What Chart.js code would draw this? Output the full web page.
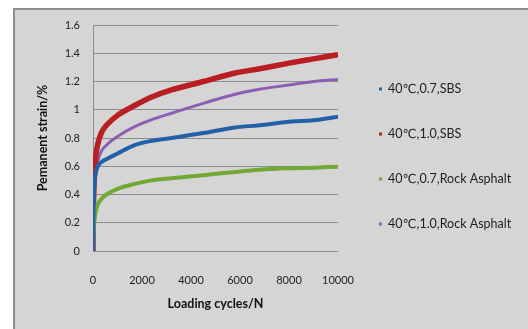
<!DOCTYPE html>
<html lang="en">
<head>
<meta charset="UTF-8">
<title>Permanent strain vs loading cycles</title>
<script src="https://cdn.jsdelivr.net/npm/chart.js"></script>
<style>
  html, body { margin: 0; padding: 0; background: #fff; }
  #wrap { position: relative; width: 528px; height: 329px; overflow: hidden; }
  #frame {
    position: absolute; left: 13px; top: 8px; width: 540px; height: 340px;
    background: #d5d5d5; border-left: 2px solid #8e8e8e; border-top: 2px solid #8e8e8e;
  }
  #chart { position: absolute; left: 0; top: 0; }
</style>
</head>
<body>
<div id="wrap">
  <div id="frame"></div>
  <canvas id="chart" width="528" height="329"></canvas>
</div>

<script>
// loading cycles where the curves were read
const cycles = [0, 20, 50, 100, 200, 350, 550, 1000, 1700, 2400, 3200, 4500, 5800, 6800, 8000, 9000, 10000];

// permanent strain, %
const sbs07  = [0, 0.30, 0.45, 0.54, 0.60, 0.63, 0.65, 0.69, 0.75, 0.78, 0.80, 0.835, 0.875, 0.89, 0.915, 0.925, 0.95];
const sbs10  = [0, 0.32, 0.50, 0.65, 0.76, 0.84, 0.89, 0.96, 1.03, 1.09, 1.14, 1.20, 1.26, 1.29, 1.33, 1.36, 1.39];
const rock07 = [0, 0.10, 0.20, 0.27, 0.33, 0.37, 0.40, 0.44, 0.475, 0.50, 0.515, 0.537, 0.56, 0.575, 0.585, 0.59, 0.596];
const rock10 = [0, 0.35, 0.45, 0.55, 0.64, 0.71, 0.75, 0.81, 0.88, 0.93, 0.975, 1.045, 1.11, 1.145, 1.175, 1.20, 1.215];

const seriesNames = ['40℃,0.7,SBS', '40℃,1.0,SBS', '40℃,0.7,Rock Asphalt', '40℃,1.0,Rock Asphalt'];
const seriesColors = ['#2360a8', '#b81e22', '#72a935', '#8d5fb3'];

const yTicks = [0, 0.2, 0.4, 0.6, 0.8, 1, 1.2, 1.4, 1.6];
const xTicks = [0, 2000, 4000, 6000, 8000, 10000];

function pts(ys) {
    return cycles.map((c, i) => ({ x: c, y: ys[i] }));
}

// legend drawn by hand so the spacing matches the Excel one
const sideLegend = {
    id: 'sideLegend',
    afterDraw(chart) {
        const ctx = chart.ctx;
        ctx.save();
        ctx.font = '12.5px Lato, "DejaVu Sans", sans-serif';
        ctx.textBaseline = 'middle';
        chart.data.datasets.forEach((ds, i) => {
            const y = 89 + i * 45;
            ctx.fillStyle = ds.borderColor;
            ctx.fillRect(379, y - 1.5, 3, 3);
            ctx.fillStyle = '#1e1e1e';
            ctx.fillText(ds.label, 388, y);
        });
        ctx.restore();
    }
};

const widths = [4, 5.5, 4, 3];

new Chart(document.getElementById('chart'), {
    type: 'scatter',
    data: {
        datasets: [sbs07, sbs10, rock07, rock10].map((ys, i) => ({
            label: seriesNames[i],
            data: pts(ys),
            showLine: true,
            borderColor: seriesColors[i],
            backgroundColor: seriesColors[i],
            borderWidth: widths[i],
            cubicInterpolationMode: 'monotone',
            pointRadius: 0,
            order: i === 1 ? 3 : i
        }))
    },
    options: {
        responsive: false,
        animation: false,
        layout: { padding: { left: 0, top: 25, right: 190, bottom: 0 } },
        plugins: {
            legend: { display: false },
            tooltip: { enabled: false }
        },
        scales: {
            x: {
                type: 'linear',
                min: 0, max: 10000,
                afterBuildTicks: s => { s.ticks = xTicks.map(v => ({ value: v })); },
                afterFit: s => { s.height = 78; },
                grid: { display: false },
                border: { display: false },
                ticks: {
                    padding: 15,
                    color: '#222',
                    font: { family: 'Lato', size: 11 },
                    callback: v => String(v)
                },
                title: {
                    display: true,
                    text: 'Loading cycles/N',
                    color: '#111',
                    font: { family: 'Lato', size: 12.5, weight: 'bold' },
                    padding: { top: 8, bottom: 18 }
                }
            },
            y: {
                min: 0, max: 1.6,
                afterBuildTicks: s => { s.ticks = yTicks.map(v => ({ value: v })); },
                afterFit: s => { s.width = 93; },
                grid: { color: '#8c8c8c', lineWidth: 1, drawTicks: false },
                border: { display: true, color: '#8c8c8c' },
                ticks: {
                    padding: 13,
                    color: '#222',
                    font: { family: 'Lato', size: 11 },
                    callback: v => String(Math.round(v * 10) / 10)
                },
                title: {
                    display: true,
                    text: 'Pemanent strain/%',
                    color: '#111',
                    font: { family: 'Lato', size: 12.5, weight: 'bold' },
                    padding: { top: 35, bottom: 0 }
                }
            }
        }
    },
    plugins: [sideLegend]
});
</script>
</body>
</html>
